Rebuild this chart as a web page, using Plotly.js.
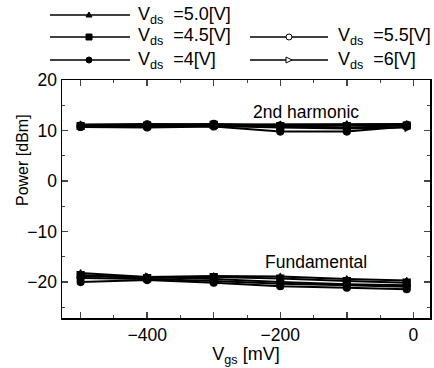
<!DOCTYPE html>
<html><head><meta charset="utf-8">
<script src="https://cdn.plot.ly/plotly-3.0.1.min.js"></script>
<style>html,body{margin:0;padding:0;background:#fff}#c{width:434px;height:368px}</style>
</head><body><div id="c"></div>
<script>
const vgs = [-500, -400, -300, -200, -100, -10];
const seriesNames = ['5.0', '4.5', '4', '5.5', '6'];
const harm2 = {
  '5.0': [11.2, 11.3, 11.2, 11.2, 11.3, 11.3],
  '4.5': [10.9, 11.0, 11.1, 10.9, 10.9, 11.0],
  '4':   [10.7, 10.6, 10.8, 9.8, 9.8, 10.8],
  '5.5': [11.0, 11.2, 11.3, 11.0, 10.5, 11.1],
  '6':   [10.8, 10.8, 10.9, 10.6, 10.4, 10.6]
};
const fund = {
  '5.0': [-18.2, -19.0, -18.8, -18.9, -19.4, -19.7],
  '4.5': [-18.6, -19.2, -19.0, -19.3, -19.8, -20.1],
  '4':   [-20.0, -19.6, -20.1, -20.8, -21.1, -21.4],
  '5.5': [-19.2, -19.4, -19.8, -20.3, -20.6, -20.9],
  '6':   [-18.9, -19.0, -19.4, -20.0, -20.4, -20.6]
};
const xTickVals = [-500, -400, -300, -200, -100, 0];
const xTickText = ['', '\u2212400', '', '\u2212200', '', '0'];
const yTickVals = [-20, -10, 0, 10, 20];
const yTickText = ['\u221220', '\u221210', '0', '10', '20'];

const markers = {
  '5.0': {symbol: 'triangle-up', size: 6, color: '#000'},
  '4.5': {symbol: 'square', size: 7, color: '#000'},
  '4':   {symbol: 'circle', size: 7, color: '#000'},
  '5.5': {symbol: 'circle-open', size: 7, color: '#000'},
  '6':   {symbol: 'triangle-right-open', size: 7, color: '#000'}
};

const traces = seriesNames.map(n => ({
  type: 'scatter', mode: 'lines+markers',
  x: vgs.concat([null]).concat(vgs),
  y: harm2[n].concat([null]).concat(fund[n]),
  connectgaps: false,
  line: {color: '#000', width: 2},
  marker: Object.assign({line: {color: '#000', width: 1.2}}, markers[n]),
  name: 'Vds=' + n, showlegend: false
}));

const F = 'Liberation Sans, Arial, sans-serif';
// manual legend
const L = 62, W = 368;
const px = v => (v - L) / W, py = v => (318 - v) / 238;
const legendItems = [
  {n: '5.0', x0: 50, x1: 130, xm: 89, y: 15, tx: 136},
  {n: '4.5', x0: 50, x1: 130, xm: 89, y: 37, tx: 136},
  {n: '4',   x0: 50, x1: 130, xm: 89, y: 60, tx: 136},
  {n: '5.5', x0: 250, x1: 328, xm: 289, y: 37, tx: 336},
  {n: '6',   x0: 250, x1: 328, xm: 289, y: 60, tx: 336}
];
const shapes = [], annotations = [];
legendItems.forEach(it => {
  shapes.push({type: 'line', xref: 'paper', yref: 'paper', x0: px(it.x0), x1: px(it.x1), y0: py(it.y), y1: py(it.y), line: {color: '#000', width: 1.5}});
  const m = markers[it.n];
  const open = m.symbol.indexOf('open') >= 0;
  const base = {xref: 'paper', yref: 'paper', xsizemode: 'pixel', ysizemode: 'pixel', xanchor: px(it.xm), yanchor: py(it.y),
    line: {color: '#000', width: 1}, fillcolor: open ? '#fff' : '#000'};
  if (m.symbol.startsWith('circle')) shapes.push(Object.assign({type: 'circle', x0: -3, x1: 3, y0: -3, y1: 3}, base));
  else if (m.symbol === 'square') shapes.push(Object.assign({type: 'rect', x0: -3, x1: 3, y0: -3, y1: 3}, base));
  else if (m.symbol === 'triangle-up') shapes.push(Object.assign({type: 'path', path: 'M-3,-2L3,-2L0,3Z'}, base));
  else shapes.push(Object.assign({type: 'path', path: 'M-3,-3L-3,3L3,0Z'}, base));
  annotations.push({xref: 'paper', yref: 'paper', x: px(it.tx), y: py(it.y), xanchor: 'left', yanchor: 'middle', showarrow: false,
    text: 'V<sub>ds</sub>  =' + it.n + '[V]', font: {family: F, size: 18, color: '#000'}});
});
annotations.push({x: -161, y: 13.6, text: '2nd harmonic', showarrow: false, font: {family: F, size: 17.5, color: '#000'}});
annotations.push({x: -146, y: -16, text: 'Fundamental', showarrow: false, font: {family: F, size: 17.5, color: '#000'}});
annotations.push({xref: 'paper', yref: 'paper', x: px(22), y: py(160), xanchor: 'center', yanchor: 'middle', textangle: -90, showarrow: false,
  text: 'Power [dBm]', font: {family: F, size: 16, color: '#000'}});

const layout = {
  width: 434, height: 368,
  margin: {l: 62, r: 4, t: 80, b: 50},
  paper_bgcolor: '#fff', plot_bgcolor: '#fff',
  font: {family: F, size: 17, color: '#000'},
  showlegend: false,
  xaxis: {range: [-528, 25], tickvals: xTickVals, ticktext: xTickText, ticks: 'inside', ticklen: 6, tickwidth: 1.5,
    minor: {dtick: 50, tick0: 0, ticks: 'inside', ticklen: 3, tickwidth: 1},
    showline: true, linewidth: 1.5, linecolor: '#000', mirror: 'allticks', showgrid: false, zeroline: false,
    tickfont: {family: F, size: 17.5}, title: {text: 'V<sub>gs</sub> [mV]', font: {family: F, size: 18}, standoff: 4}},
  yaxis: {range: [-27.1, 20], tickvals: yTickVals, ticktext: yTickText, ticks: 'inside', ticklen: 6, tickwidth: 1.5,
    minor: {dtick: 5, tick0: 0, ticks: 'inside', ticklen: 3, tickwidth: 1},
    showline: true, linewidth: 1.5, linecolor: '#000', mirror: 'allticks', showgrid: false, zeroline: false,
    tickfont: {family: F, size: 17.5}},
  shapes: shapes, annotations: annotations
};
Plotly.newPlot('c', traces, layout, {displayModeBar: false, staticPlot: true});
</script></body></html>
